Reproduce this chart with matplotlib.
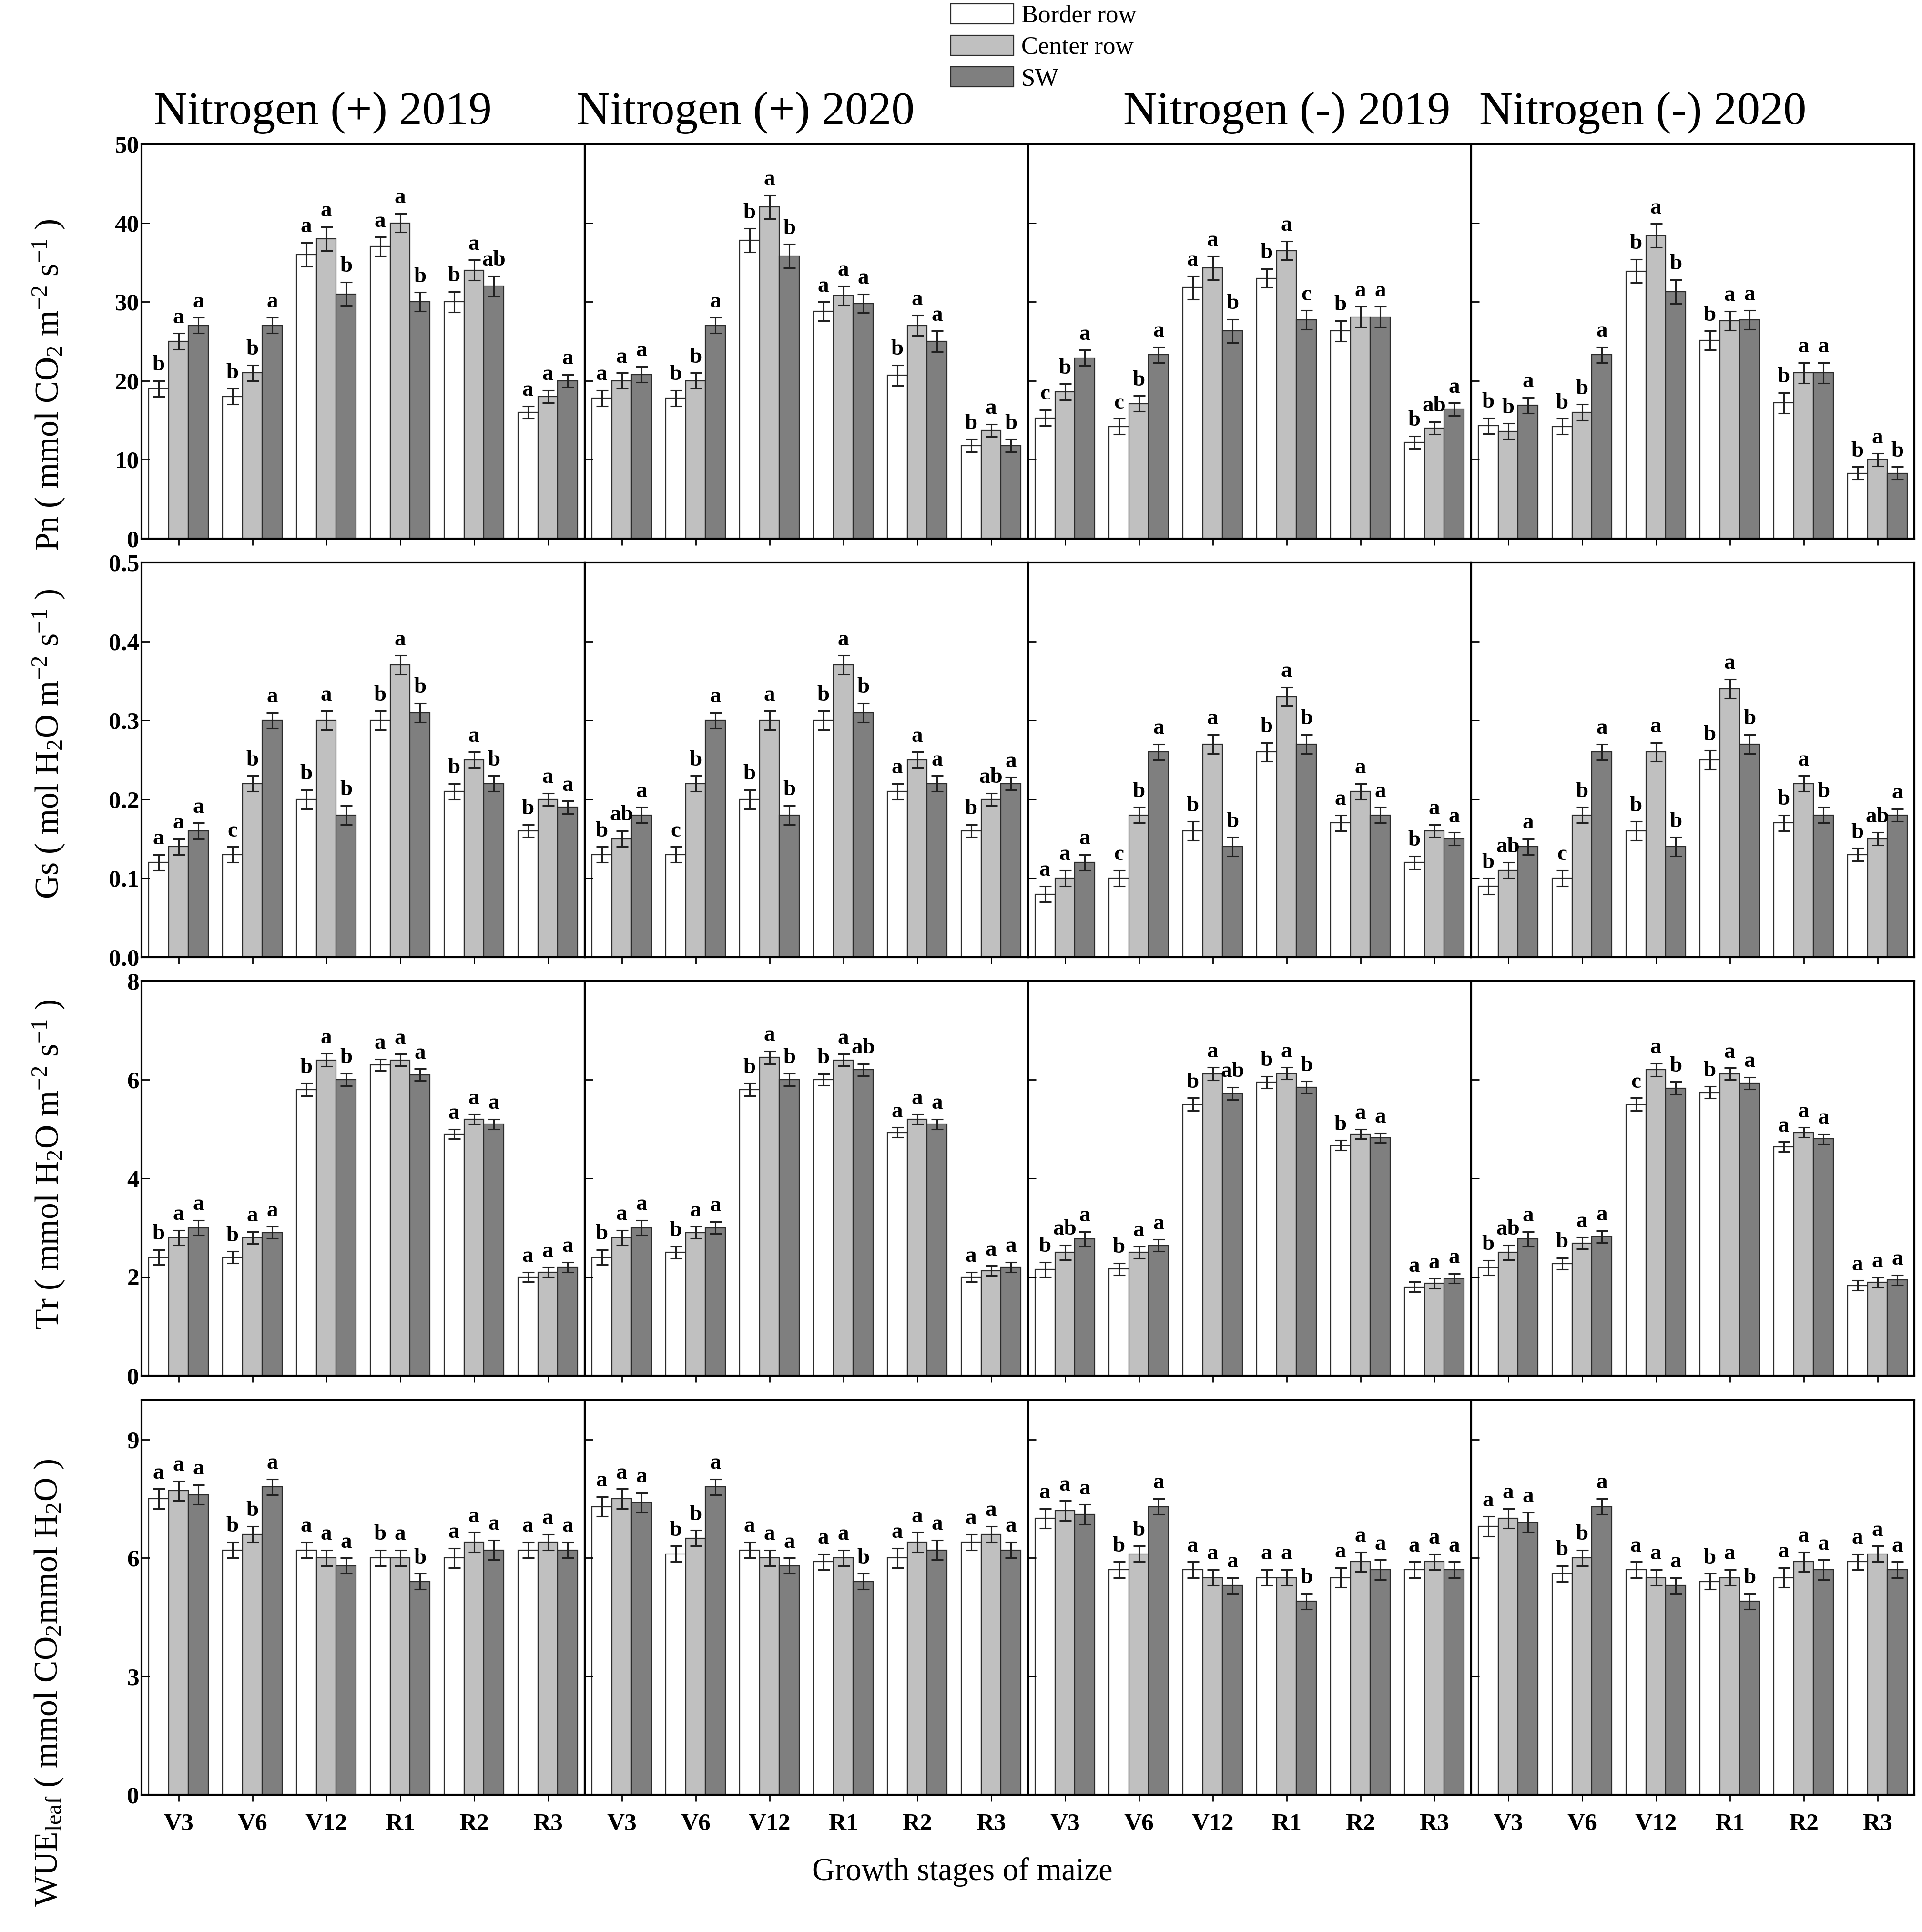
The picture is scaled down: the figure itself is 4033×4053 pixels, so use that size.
import matplotlib.pyplot as plt
from matplotlib.patches import Patch

plt.rcParams['font.family'] = ['Liberation Serif', 'DejaVu Serif']
plt.rcParams['mathtext.fontset'] = 'custom'
plt.rcParams['mathtext.rm'] = 'Liberation Serif'
plt.rcParams['mathtext.it'] = 'Liberation Serif:italic'
plt.rcParams['mathtext.bf'] = 'Liberation Serif:bold'

stages = ['V3', 'V6', 'V12', 'R1', 'R2', 'R3']
titles = ['Nitrogen (+) 2019', 'Nitrogen (+) 2020', 'Nitrogen (-) 2019', 'Nitrogen (-) 2020']
series = ['Border row', 'Center row', 'SW']

# Pn - one list per panel (N+2019, N+2020, N-2019, N-2020)
pn_border = [[19, 18, 36, 37, 30, 16], [17.8, 17.8, 37.8, 28.8, 20.7, 11.8],
             [15.3, 14.2, 31.8, 33.0, 26.3, 12.2], [14.3, 14.2, 33.9, 25.1, 17.2, 8.3]]
pn_center = [[25, 21, 38, 40, 34, 18], [20, 20, 42, 30.8, 27, 13.7],
             [18.6, 17.1, 34.3, 36.5, 28.1, 14.0], [13.6, 16.0, 38.4, 27.6, 21.0, 10.0]]
pn_sw = [[27, 27, 31, 30, 32, 20], [20.8, 27, 35.8, 29.8, 25, 11.8],
         [22.9, 23.3, 26.3, 27.7, 28.1, 16.4], [16.9, 23.3, 31.3, 27.7, 21.0, 8.3]]
pn_err = [1.0, 1.0, 1.5, 1.2, 1.3, 0.8]
pn_letters = [['b a a', 'b b a', 'a a b', 'a a b', 'b a ab', 'a a a'],
              ['a a a', 'b b a', 'b a b', 'a a a', 'b a a', 'b a b'],
              ['c b a', 'c b a', 'a a b', 'b a c', 'b a a', 'b ab a'],
              ['b b a', 'b b a', 'b a b', 'b a a', 'b a a', 'b a b']]

# Gs
gs_border = [[0.12, 0.13, 0.20, 0.30, 0.21, 0.16], [0.13, 0.13, 0.20, 0.30, 0.21, 0.16],
             [0.08, 0.10, 0.16, 0.26, 0.17, 0.12], [0.09, 0.10, 0.16, 0.25, 0.17, 0.13]]
gs_center = [[0.14, 0.22, 0.30, 0.37, 0.25, 0.20], [0.15, 0.22, 0.30, 0.37, 0.25, 0.20],
             [0.10, 0.18, 0.27, 0.33, 0.21, 0.16], [0.11, 0.18, 0.26, 0.34, 0.22, 0.15]]
gs_sw = [[0.16, 0.30, 0.18, 0.31, 0.22, 0.19], [0.18, 0.30, 0.18, 0.31, 0.22, 0.22],
         [0.12, 0.26, 0.14, 0.27, 0.18, 0.15], [0.14, 0.26, 0.14, 0.27, 0.18, 0.18]]
gs_err = [0.01, 0.01, 0.012, 0.012, 0.01, 0.008]
gs_letters = [['a a a', 'c b a', 'b a b', 'b a b', 'b a b', 'b a a'],
              ['b ab a', 'c b a', 'b a b', 'b a b', 'a a a', 'b ab a'],
              ['a a a', 'c b a', 'b a b', 'b a b', 'a a a', 'b a a'],
              ['b ab a', 'c b a', 'b a b', 'b a b', 'b a b', 'b ab a']]

# Tr
tr_border = [[2.4, 2.4, 5.8, 6.3, 4.9, 2.0], [2.4, 2.5, 5.8, 6.0, 4.93, 2.0],
             [2.15, 2.16, 5.5, 5.95, 4.67, 1.8], [2.19, 2.27, 5.5, 5.74, 4.64, 1.83]]
tr_center = [[2.8, 2.8, 6.4, 6.4, 5.2, 2.1], [2.8, 2.9, 6.45, 6.4, 5.2, 2.13],
             [2.5, 2.5, 6.12, 6.13, 4.9, 1.87], [2.5, 2.69, 6.2, 6.12, 4.93, 1.89]]
tr_sw = [[3.0, 2.9, 6.0, 6.1, 5.1, 2.2], [3.0, 3.0, 6.0, 6.2, 5.1, 2.2],
         [2.77, 2.64, 5.72, 5.85, 4.82, 1.97], [2.77, 2.82, 5.83, 5.93, 4.8, 1.94]]
tr_err = [0.15, 0.12, 0.13, 0.12, 0.1, 0.1]
tr_letters = [['b a a', 'b a a', 'b a b', 'a a a', 'a a a', 'a a a'],
              ['b a a', 'b a a', 'b a b', 'b a ab', 'a a a', 'a a a'],
              ['b ab a', 'b a a', 'b a ab', 'b a b', 'b a a', 'a a a'],
              ['b ab a', 'b a a', 'c a b', 'b a a', 'a a a', 'a a a']]

# WUE leaf
wue_border = [[7.5, 6.2, 6.2, 6.0, 6.0, 6.2], [7.3, 6.1, 6.2, 5.9, 6.0, 6.4],
              [7.0, 5.7, 5.7, 5.5, 5.5, 5.7], [6.8, 5.6, 5.7, 5.4, 5.5, 5.9]]
wue_center = [[7.7, 6.6, 6.0, 6.0, 6.4, 6.4], [7.5, 6.5, 6.0, 6.0, 6.4, 6.6],
              [7.2, 6.1, 5.5, 5.5, 5.9, 5.9], [7.0, 6.0, 5.5, 5.5, 5.9, 6.1]]
wue_sw = [[7.6, 7.8, 5.8, 5.4, 6.2, 6.2], [7.4, 7.8, 5.8, 5.4, 6.2, 6.2],
          [7.1, 7.3, 5.3, 4.9, 5.7, 5.7], [6.9, 7.3, 5.3, 4.9, 5.7, 5.7]]
wue_err = [0.25, 0.2, 0.2, 0.2, 0.25, 0.2]
wue_letters = [['a a a', 'b b a', 'a a a', 'b a b', 'a a a', 'a a a'],
               ['a a a', 'b b a', 'a a a', 'a a b', 'a a a', 'a a a'],
               ['a a a', 'b b a', 'a a a', 'a a b', 'a a a', 'a a a'],
               ['a a a', 'b b a', 'a a a', 'b a b', 'a a a', 'a a a']]

rows = [
    (pn_border, pn_center, pn_sw, pn_err, pn_letters, 50, [0, 10, 20, 30, 40, 50], '%d',
     r'Pn ( mmol CO$_2$ m$^{-2}$ s$^{-1}$ )', 808),
    (gs_border, gs_center, gs_sw, gs_err, gs_letters, 0.5, [0, 0.1, 0.2, 0.3, 0.4, 0.5], '%.1f',
     r'Gs ( mol H$_2$O m$^{-2}$ s$^{-1}$ )', 1561),
    (tr_border, tr_center, tr_sw, tr_err, tr_letters, 8, [0, 2, 4, 6, 8], '%d',
     r'Tr ( mmol H$_2$O m$^{-2}$ s$^{-1}$ )', 2443),
    (wue_border, wue_center, wue_sw, wue_err, wue_letters, 10, [0, 3, 6, 9], '%d',
     r'WUE$_{\mathrm{leaf}}$ ( mmol CO$_2$mmol H$_2$O )', 3530),
]

colors = ['white', '#c0c0c0', '#7f7f7f']
W, H = 4033, 4053
fig = plt.figure(figsize=(W / 100, H / 100), dpi=100)

col_left = [297, 1227, 2157, 3087]
col_w = 930
row_top = [302, 1180, 2058, 2937]
row_h = 828
bw = 0.27

for r, (bd, ce, sw, err, lets, ymax, yt, fmt, ylab, ylab_y) in enumerate(rows):
    for c in range(4):
        ax = fig.add_axes([col_left[c] / W, 1 - (row_top[r] + row_h) / H, col_w / W, row_h / H])
        xs = list(range(len(stages)))
        for k, vals in enumerate([bd[c], ce[c], sw[c]]):
            pos = [x + (k - 1) * bw for x in xs]
            ax.bar(pos, vals, bw, color=colors[k], edgecolor='#2b2b2b', linewidth=1.6,
                   yerr=err, capsize=9, error_kw=dict(ecolor='#202020', elinewidth=2.2, capthick=2.2))
            for i, v in enumerate(vals):
                lab = lets[c][i].split()[k]
                ax.text(pos[i], v + err[i] + ymax * 0.014, lab, ha='center', va='bottom',
                        fontsize=34, fontweight='bold')
        ax.set_xlim(-0.5, 5.5)
        ax.set_ylim(0, ymax)
        ax.set_yticks(yt)
        ax.tick_params(axis='y', direction='in', length=12, width=2)
        ax.tick_params(axis='x', direction='out', length=10, width=2)
        ax.set_xticks(xs)
        if c == 0:
            ax.set_yticklabels([fmt % t for t in yt], fontsize=37, fontweight='bold')
        else:
            ax.set_yticklabels([])
        if r == 3:
            ax.set_xticklabels(stages, fontsize=37, fontweight='bold')
            ax.tick_params(axis='x', pad=18)
        else:
            ax.set_xticklabels([])
        for s in ax.spines.values():
            s.set_linewidth(3)
    fig.text(103 / W, 1 - ylab_y / H, ylab, rotation=90, ha='center', va='center', fontsize=50)

title_x = [677, 1564, 2700, 3447]
for t, tx in zip(titles, title_x):
    fig.text(tx / W, 1 - 237 / H, t, ha='center', va='center', fontsize=70)

fig.text(2019 / W, 1 - 3927 / H, 'Growth stages of maize', ha='center', va='center', fontsize=48)

handles = [Patch(facecolor=colors[k], edgecolor='#2b2b2b', linewidth=1.6) for k in range(3)]
fig.legend(handles, series, loc='upper left', bbox_to_anchor=(1995 / W, 1 - 8 / H),
           frameon=False, fontsize=38, handlelength=2.5, handleheight=0.85,
           labelspacing=0.3, handletextpad=0.3, borderpad=0, borderaxespad=0)

fig.savefig('out.png', dpi=100)
